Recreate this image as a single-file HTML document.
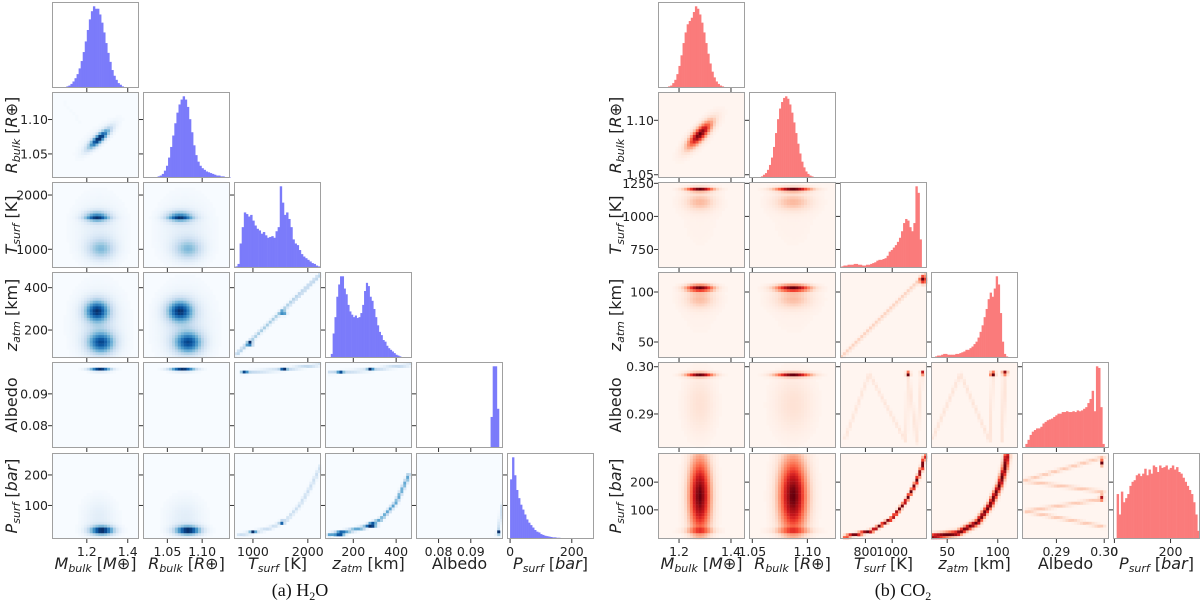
<!DOCTYPE html>
<html><head><meta charset="utf-8">
<style>
html,body{margin:0;padding:0;background:#fff;}
svg{display:block;}
text{font-family:"DejaVu Sans","Liberation Sans",sans-serif;fill:#222;}
.cap{font-family:"Liberation Serif",serif;font-size:18px;fill:#111;}
</style></head>
<body>
<svg id="fig" width="1200" height="612" viewBox="0 0 1200 612" xmlns="http://www.w3.org/2000/svg">
<text class="cap" x="300" y="596" text-anchor="middle">(a) H<tspan font-size="12" dy="4">2</tspan><tspan dy="-4">O</tspan></text>
<text class="cap" x="903" y="596" text-anchor="middle">(b) CO<tspan font-size="12" dy="4">2</tspan></text>
</svg>
<script>
// ---------- data ----------
const varNames = ["M","R","T","z","A","P"];
const h2oDomains = [[1.03,1.455],[1.015,1.14],[655,2240],[68,474],[0.073,0.1],[-10,272]];
const co2Domains = [[1.119,1.454],[1.047,1.126],[610,1260],[34,120],[0.2828,0.301],[-5,305]];
const h2oXTicks = [[1.2,1.4],[1.05,1.10],[1000,2000],[200,400],[0.08,0.09],[0,200]];
const h2oXTickLabels = [["1.2","1.4"],["1.05","1.10"],["1000","2000"],["200","400"],["0.08","0.09"],["0","200"]];
const h2oYTicks = [[],[1.05,1.10],[1000,2000],[200,400],[0.08,0.09],[100,200]];
const h2oYTickLabels = [[],["1.05","1.10"],["1000","2000"],["200","400"],["0.08","0.09"],["100","200"]];
const co2XTicks = [[1.2,1.4],[1.05,1.10],[800,1000],[50,100],[0.29,0.30],[0,200]];
const co2XTickLabels = [["1.2","1.4"],["1.05","1.10"],["800","1000"],["50","100"],["0.29","0.30"],["0","200"]];
const co2YTicks = [[],[1.05,1.10],[750,1000,1250],[50,100],[0.29,0.30],[100,200]];
const co2YTickLabels = [[],["1.05","1.10"],["750","1000","1250"],["50","100"],["0.29","0.30"],["100","200"]];

// histogram bins: span and heights
const h2oHistSpans = [[1.08,1.42],[1.03,1.141],[680,2220],[95,440],[0.0955,0.0994],[0,260]];
const h2oHistM = [0.01,0.01,0.02,0.03,0.05,0.08,0.12,0.17,0.24,0.33,0.44,0.57,0.71,0.84,0.94,1.0,0.97,0.97,0.9,0.8,0.68,0.55,0.43,0.32,0.22,0.15,0.1,0.06,0.04,0.02,0.01,0.01,0.005,0.003];
const h2oHistR = [0.005,0.01,0.02,0.03,0.05,0.09,0.15,0.25,0.38,0.52,0.67,0.8,0.9,0.96,1.0,0.96,0.87,0.72,0.56,0.4,0.28,0.2,0.15,0.12,0.1,0.08,0.07,0.06,0.05,0.04,0.03,0.03,0.02,0.02,0.01,0.01,0.005];
const h2oHistT = [0.02,0.05,0.3,0.5,0.68,0.66,0.63,0.65,0.58,0.52,0.48,0.46,0.42,0.44,0.4,0.37,0.38,0.39,0.37,0.45,0.5,1.0,0.8,0.65,0.68,0.6,0.5,0.35,0.3,0.28,0.22,0.17,0.14,0.12,0.1,0.08,0.06,0.05,0.03,0.02];
const h2oHistZ = [0.05,0.3,0.5,0.75,0.9,1.0,1.0,0.85,0.78,0.65,0.57,0.53,0.5,0.52,0.49,0.5,0.55,0.65,0.82,0.92,0.88,0.75,0.7,0.6,0.5,0.4,0.32,0.28,0.22,0.2,0.15,0.12,0.1,0.08,0.06,0.04,0.03,0.02,0.01,0.005];
const h2oHistA = [0,0.38,1.0,1.0,0.48,0];
const h2oHistP = [0.73,1.0,0.78,0.6,0.5,0.42,0.36,0.3,0.24,0.2,0.17,0.14,0.11,0.09,0.08,0.06,0.05,0.04,0.035,0.03,0.025,0.02,0.02,0.015,0.015,0.012,0.01,0.01,0.008,0.008,0.006,0.005,0.005,0.004,0.004,0.003,0.003,0.002,0.002,0.001];
const co2HistSpans = [[1.15,1.42],[1.056,1.12],[620,1235],[36,116],[0.2835,0.3005],[8,303]];
const co2HistM = [0.01,0.02,0.03,0.06,0.1,0.17,0.27,0.4,0.55,0.68,0.78,0.82,0.86,0.93,1.0,0.97,0.9,0.8,0.68,0.55,0.42,0.3,0.2,0.13,0.08,0.05,0.03,0.02,0.01,0.005,0.003,0.002,0.001,0.001];
const co2HistR = [0.01,0.02,0.04,0.06,0.1,0.16,0.25,0.38,0.55,0.72,0.85,0.93,0.98,1.0,0.97,0.9,0.8,0.68,0.55,0.42,0.3,0.2,0.13,0.08,0.05,0.03,0.02,0.01,0.005,0.003,0.002,0.001,0.001,0,0];
const co2HistT = [0.02,0.03,0.03,0.04,0.04,0.04,0.05,0.05,0.04,0.04,0.03,0.03,0.04,0.04,0.05,0.06,0.07,0.09,0.1,0.1,0.11,0.12,0.15,0.2,0.22,0.25,0.28,0.32,0.37,0.45,0.55,0.6,0.58,0.5,0.45,0.55,1.0,0.92,0.35,0];
const co2HistZ = [0.01,0.02,0.03,0.03,0.04,0.05,0.05,0.04,0.04,0.04,0.04,0.05,0.05,0.06,0.07,0.08,0.1,0.1,0.12,0.14,0.17,0.2,0.25,0.32,0.4,0.5,0.6,0.72,0.8,0.75,0.85,1.0,0.9,0.55,0.2,0.05,0.02,0.01,0,0];
const co2HistA = [0.05,0.1,0.16,0.2,0.22,0.24,0.24,0.26,0.3,0.32,0.34,0.35,0.36,0.38,0.4,0.42,0.42,0.44,0.44,0.45,0.44,0.44,0.45,0.44,0.46,0.45,0.46,0.48,0.5,0.55,0.6,0.7,0.45,1.0,0.98,0.5,0.05,0];
const co2HistP = [0.55,0.3,0.58,0.45,0.5,0.55,0.65,0.7,0.72,0.78,0.8,0.77,0.8,0.86,0.78,0.85,0.8,0.9,0.88,0.82,0.9,0.87,0.88,0.9,0.85,0.87,0.9,0.85,0.88,0.82,0.8,0.75,0.7,0.65,0.6,0.55,0.45,0.3,0.1];

// 2D density features: blobs [row,col,x,y,sx,sy,weight,rho]
const h2oBlobs = [
 [1,0,1.26,1.072,0.04,0.011,1,0.85],[1,0,1.25,1.075,0.08,0.02,0.1,0.8],
 [2,0,1.25,1600,0.045,75,0.75,0],[2,0,1.25,1565,0.05,12,0.55,0],[2,0,1.27,1000,0.05,140,0.5,0],[2,0,1.26,1350,0.09,450,0.2,0],
 [2,1,1.068,1600,0.014,75,0.75,0],[2,1,1.068,1565,0.015,12,0.55,0],[2,1,1.08,1000,0.015,140,0.5,0],[2,1,1.075,1350,0.028,450,0.2,0],
 [3,0,1.25,290,0.045,38,0.75,0],[3,0,1.27,140,0.05,38,0.7,0],[3,0,1.26,220,0.09,130,0.2,0],
 [3,1,1.068,290,0.014,38,0.75,0],[3,1,1.08,140,0.015,38,0.7,0],[3,1,1.075,220,0.028,130,0.2,0],
 [4,0,1.265,0.0976,0.04,0.0004,1,0],[4,1,1.072,0.0976,0.014,0.0004,1,0],
 [4,2,1560,0.0977,40,0.0002,0.6,0],[4,2,850,0.0968,40,0.0002,0.5,0],
 [4,3,280,0.0977,10,0.0002,0.6,0],[4,3,140,0.0969,10,0.0002,0.5,0],
 [3,2,950,135,40,8,0.6,0],[3,2,1560,280,40,8,0.5,0],
 [5,0,1.275,18,0.045,11,1,0],[5,0,1.26,60,0.06,50,0.2,0],
 [5,1,1.08,18,0.014,11,1,0],[5,1,1.075,60,0.02,50,0.2,0],
 [5,2,1000,12,40,3,0.6,0],[5,2,1530,45,30,4,0.6,0],
 [5,3,140,8,15,3,0.6,0],[5,3,290,35,15,4,0.4,0],
 [5,4,0.0985,12,0.0002,5,0.8,0]
];
// polyline ridges [row,col,weight,widthPx,points]
const h2oLines = [
 [1,0,0.05,1.5,[[1.09,1.125],[1.17,1.095]]],
 [3,2,0.3,1.4,[[700,85],[2240,465]]],
 [4,2,0.3,1.3,[[800,0.0967],[1200,0.0972],[1600,0.0977],[2240,0.0993]]],
 [4,3,0.3,1.3,[[90,0.0967],[200,0.0971],[300,0.0977],[474,0.0993]]],
 [5,2,0.25,1.4,[[750,3],[1000,12],[1300,25],[1600,50],[1850,100],[2050,160],[2240,230]]],
 [5,3,0.25,1.5,[[85,3],[150,12],[250,28],[330,55],[400,110],[460,200]]],
 [5,4,0.25,1.4,[[0.0983,2],[0.0988,30],[0.0993,60],[0.0998,100]]]
];
const co2Blobs = [
 [1,0,1.28,1.087,0.035,0.009,1,0.8],[1,0,1.28,1.087,0.07,0.018,0.08,0.8],
 [2,0,1.28,1205,0.04,12,1,0],[2,0,1.28,1110,0.045,50,0.35,0],[2,0,1.28,1000,0.07,250,0.06,0],
 [2,1,1.087,1205,0.012,12,1,0],[2,1,1.087,1110,0.013,50,0.35,0],[2,1,1.087,1000,0.02,250,0.06,0],
 [3,0,1.28,104,0.04,2.5,1,0],[3,0,1.28,93,0.045,7,0.35,0],[3,0,1.28,80,0.07,25,0.06,0],
 [3,1,1.087,104,0.012,2.5,1,0],[3,1,1.087,93,0.013,7,0.35,0],[3,1,1.087,80,0.02,25,0.06,0],
 [3,2,1235,112,20,3,0.7,0],
 [4,0,1.28,0.2983,0.04,0.00035,1,0],[4,0,1.28,0.292,0.045,0.005,0.22,0],
 [4,1,1.087,0.2983,0.012,0.00035,1,0],[4,1,1.087,0.292,0.014,0.005,0.22,0],
 [4,2,1119,0.2985,12,0.0003,0.8,0],[4,2,1225,0.2987,10,0.0003,0.7,0],
 [4,3,95,0.2985,2,0.0003,0.8,0],[4,3,107,0.2987,2,0.0003,0.7,0],
 [5,0,1.28,150,0.033,110,1,0],[5,0,1.28,25,0.05,6,0.3,0],
 [5,1,1.087,150,0.01,110,1,0],[5,1,1.087,25,0.015,6,0.3,0],
 [5,4,0.2994,270,0.0002,8,0.8,0],[5,4,0.2993,145,0.0002,8,0.8,0]
];
const co2Lines = [
 [3,2,0.2,1.4,[[621,35],[1250,118]]],
 [4,2,0.12,1.3,[[650,0.285],[828,0.2985],[1100,0.2842],[1119,0.2985],[1183,0.2840],[1220,0.2985]]],
 [4,3,0.12,1.3,[[36,0.285],[63,0.2985],[92,0.2842],[95,0.2985]]],
 [4,3,0.12,1.3,[[106,0.2985],[104,0.2842],[108,0.2985]]],
 [5,2,0.5,1.3,[[650,3],[850,25],[1000,70],[1100,130],[1170,190],[1220,250],[1245,295]]],
 [5,3,0.5,2.4,[[35,3],[60,15],[80,55],[93,120],[102,190],[107,250],[109,295]]],
 [5,4,0.22,1.4,[[0.2998,290],[0.2832,205],[0.2998,165]]],
 [5,4,0.22,1.4,[[0.2998,140],[0.2835,95],[0.2998,40]]]
];

// ---------- rendering ----------
const NS = "http://www.w3.org/2000/svg";
const svg = document.getElementById("fig");
const rowTops = [2,92,182,272,362,453];
const cellH = 86, cellW = 87;
const blues = ["#f7fbff","#deebf7","#c6dbef","#9ecae1","#6baed6","#4292c6","#2171b5","#08519c","#08306b"];
const reds  = ["#fff5f0","#fee0d2","#fcbba1","#fc9272","#fb6a4a","#ef3b2c","#cb181d","#a50f15","#67000d"];

function mk(tag, attrs, parent){
  const e = document.createElementNS(NS, tag);
  for (const k in attrs) e.setAttribute(k, attrs[k]);
  (parent||svg).appendChild(e);
  return e;
}
function hex(c){return [parseInt(c.slice(1,3),16),parseInt(c.slice(3,5),16),parseInt(c.slice(5,7),16)];}
function cmap(stops, v){
  v = Math.max(0, Math.min(1, v));
  const p = v*(stops.length-1), i = Math.min(stops.length-2, Math.floor(p)), f = p-i;
  const a = hex(stops[i]), b = hex(stops[i+1]);
  return "rgb("+a.map((x,k)=>Math.round(x+(b[k]-x)*f)).join(",")+")";
}
function segDist(px,py,ax,ay,bx,by){
  const dx=bx-ax, dy=by-ay, L=dx*dx+dy*dy;
  let t = L ? ((px-ax)*dx+(py-ay)*dy)/L : 0; t=Math.max(0,Math.min(1,t));
  const qx=ax+t*dx-px, qy=ay+t*dy-py; return Math.sqrt(qx*qx+qy*qy);
}

function drawCorner(cfg){
  const {tag, colX, domains, xTicks, xTickLabels, yTicks, yTickLabels, hists, spans, blobs, lines, stops, histColor, ylabX} = cfg;
  const sx = j => v => colX[j] + (v-domains[j][0])/(domains[j][1]-domains[j][0])*cellW;
  const sy = i => v => rowTops[i] + cellH - (v-domains[i][0])/(domains[i][1]-domains[i][0])*cellH;
  for (let i=0;i<6;i++){
    for (let j=0;j<=i;j++){
      const x0=colX[j], y0=rowTops[i];
      const g = mk("g",{});
      
      
      const X = sx(j), Y = sy(i);
      if (i===j){
        mk("rect",{x:x0,y:y0,width:cellW,height:cellH,fill:"#fff"},g);
        const bins = hists[i], sp = spans[i], w = (sp[1]-sp[0])/bins.length;
        bins.forEach((h,k)=>{
          const xa = X(sp[0]+k*w), xb = X(sp[0]+(k+1)*w);
          const hh = h*cellH*0.95;
          const r = mk("rect",{x:xa.toFixed(2),y:(y0+cellH-hh).toFixed(2),width:(xb-xa+0.3).toFixed(2),height:hh.toFixed(2),fill:histColor},g);
          
          
        });
      } else {
        mk("rect",{x:x0,y:y0,width:cellW,height:cellH,fill:stops[0]},g);
        const N=30, cw=cellW/N, ch=cellH/N;
        const myBlobs = blobs.filter(b=>b[0]===i&&b[1]===j).map(b=>{
          const rho=-b[7];
          return {cx:X(b[2]),cy:Y(b[3]),spx:Math.abs(X(b[2]+b[4])-X(b[2])),spy:Math.abs(Y(b[3]+b[5])-Y(b[3])),w:b[6],rho};
        });
        const myLines = lines.filter(l=>l[0]===i&&l[1]===j).map(l=>({w:l[2],s:l[3],pts:l[4].map(p=>[X(p[0]),Y(p[1])])}));
        const D=[]; let mx=0;
        for (let a=0;a<N;a++) for (let b=0;b<N;b++){
          const px=x0+(a+0.5)*cw, py=y0+(b+0.5)*ch;
          let d=0;
          myBlobs.forEach(o=>{
            const dx=(px-o.cx)/o.spx, dy=(py-o.cy)/o.spy;
            const q=(dx*dx-2*o.rho*dx*dy+dy*dy)/(1-o.rho*o.rho);
            d+=o.w*Math.exp(-q/2);
          });
          myLines.forEach(l=>{
            let md=1e9;
            for (let k=0;k<l.pts.length-1;k++) md=Math.min(md,segDist(px,py,l.pts[k][0],l.pts[k][1],l.pts[k+1][0],l.pts[k+1][1]));
            d+=l.w*Math.exp(-md*md/(2*l.s*l.s));
          });
          D.push([a,b,d]); if(d>mx)mx=d;
        }
        D.forEach(([a,b,d])=>{
          const v=Math.pow(d/mx,1.35); if (v<0.012) return;
          const c = mk("rect",{x:(x0+a*cw).toFixed(2),y:(y0+b*ch).toFixed(2),width:(cw+0.2).toFixed(2),height:(ch+0.2).toFixed(2),fill:cmap(stops,v)},g);
          
          
        });
      }
      mk("rect",{x:x0+0.5,y:y0+0.5,width:cellW-1,height:cellH-1,fill:"none",stroke:"#a0a0a0","stroke-width":1},g);
      xTicks[j].forEach((t,k)=>{
        const xx=X(t);
        mk("line",{x1:xx,x2:xx,y1:y0+cellH,y2:y0+cellH+4,stroke:"#333","stroke-width":1},g);
        if (i===5){
          const tl = mk("text",{x:xx,y:y0+cellH+17,"text-anchor":"middle","font-size":"12.5"});
          tl.textContent = xTickLabels[j][k];
          
          
        }
      });
      if (i>0){
        yTicks[i].forEach((t,k)=>{
          const yy=Y(t);
          mk("line",{x1:x0-4,x2:x0,y1:yy,y2:yy,stroke:"#333","stroke-width":1},g);
          if (j===0){
            const tl = mk("text",{x:x0-4,y:yy+4.5,"text-anchor":"end","font-size":"12.5"});
            tl.textContent = yTickLabels[i][k];
            
            
          }
        });
      }
    }
  }
  const labels = [
    ['<tspan font-style="italic">M</tspan><tspan font-style="italic" font-size="11" dy="3">bulk</tspan><tspan dy="-3"> [</tspan><tspan font-style="italic">M</tspan>⊕]','mass'],
    ['<tspan font-style="italic">R</tspan><tspan font-style="italic" font-size="11" dy="3">bulk</tspan><tspan dy="-3"> [</tspan><tspan font-style="italic">R</tspan>⊕]','radius'],
    ['<tspan font-style="italic">T</tspan><tspan font-style="italic" font-size="11" dy="3">surf</tspan><tspan dy="-3"> [K]</tspan>','temperature'],
    ['<tspan font-style="italic">z</tspan><tspan font-style="italic" font-size="11" dy="3">atm</tspan><tspan dy="-3"> [km]</tspan>','altitude'],
    ['Albedo','albedo'],
    ['<tspan font-style="italic">P</tspan><tspan font-style="italic" font-size="11" dy="3">surf</tspan><tspan dy="-3"> [</tspan><tspan font-style="italic">bar</tspan>]','pressure']
  ];
  for (let j=0;j<6;j++){
    const t = mk("text",{x:colX[j]+cellW/2,y:569,"text-anchor":"middle","font-size":"16"});
    t.innerHTML = labels[j][0];
    
    
  }
  for (let i=1;i<6;i++){
    const cy = rowTops[i]+cellH/2;
    const t = mk("text",{x:ylabX,y:cy,"text-anchor":"middle","font-size":"16",transform:"rotate(-90 "+ylabX+" "+cy+")"});
    t.innerHTML = labels[i][0];
    
    
  }
}

drawCorner({tag:"h2o", colX:[52,143,234,325,416,507], domains:h2oDomains, xTicks:h2oXTicks, xTickLabels:h2oXTickLabels,
  yTicks:h2oYTicks, yTickLabels:h2oYTickLabels, hists:[h2oHistM,h2oHistR,h2oHistT,h2oHistZ,h2oHistA,h2oHistP], spans:h2oHistSpans,
  blobs:h2oBlobs, lines:h2oLines, stops:blues, histColor:"#7b7bfa", ylabX:17});
drawCorner({tag:"co2", colX:[658,749,840,931,1022,1113], domains:co2Domains, xTicks:co2XTicks, xTickLabels:co2XTickLabels,
  yTicks:co2YTicks, yTickLabels:co2YTickLabels, hists:[co2HistM,co2HistR,co2HistT,co2HistZ,co2HistA,co2HistP], spans:co2HistSpans,
  blobs:co2Blobs, lines:co2Lines, stops:reds, histColor:"#fa7b7b", ylabX:621});
</script>
</body></html>
